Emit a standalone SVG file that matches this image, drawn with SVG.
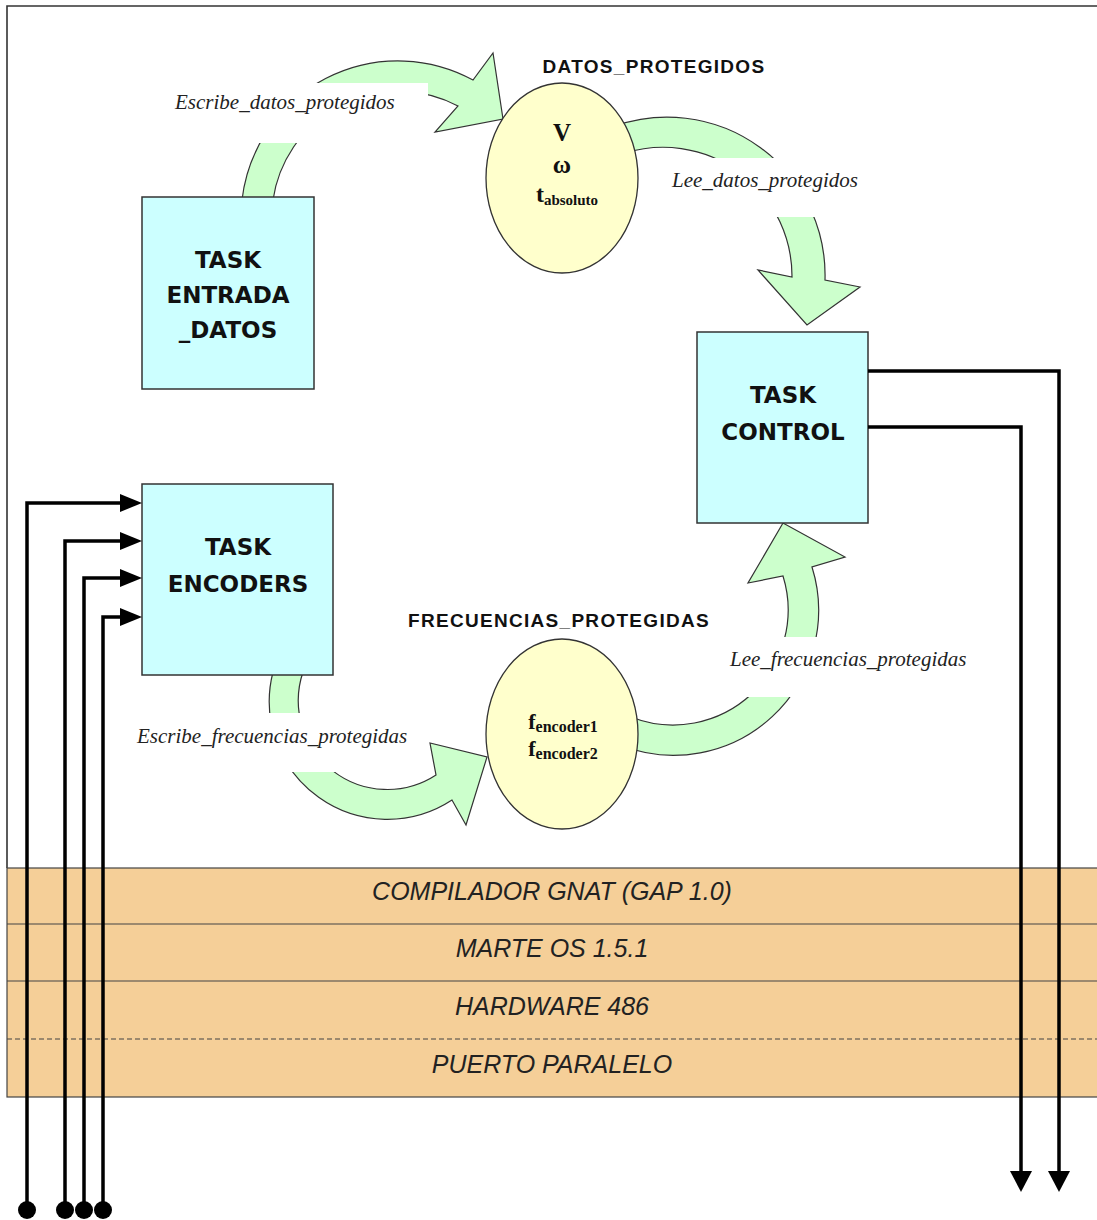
<svg xmlns="http://www.w3.org/2000/svg" width="1097" height="1220" viewBox="0 0 1097 1220">
  <style>
    .box{fill:#CCFFFF;stroke:#333;stroke-width:1.5}
    .store{fill:#FFFFCC;stroke:#333;stroke-width:1.3}
    .flow{fill:#CCFFCC;stroke:#333;stroke-width:1.2;stroke-linejoin:miter}
    .mask{fill:#fff}
    .task{font-family:"DejaVu Sans",sans-serif;font-weight:bold;font-size:23px;fill:#111;text-anchor:middle}
    .title{font-family:"Liberation Sans",Arial,sans-serif;font-weight:bold;font-size:19px;letter-spacing:1.3px;fill:#111;text-anchor:middle}
    .op{font-family:"Liberation Serif","Times New Roman",serif;font-style:italic;font-size:21px;fill:#222}
    .var{font-family:"Liberation Serif","Times New Roman",serif;font-weight:bold;fill:#111;text-anchor:middle}
    .layer{font-family:"Liberation Sans",Arial,sans-serif;font-style:italic;font-size:25px;fill:#222;text-anchor:middle}
    .sep{stroke:#444;stroke-width:1.2}
    .wire{fill:none;stroke:#000;stroke-width:3.5;stroke-linejoin:miter}
  </style>
  <defs>
    <marker id="head-right" markerUnits="userSpaceOnUse" markerWidth="22" markerHeight="18" refX="0" refY="9" orient="auto">
      <path d="M0,0 L22,9 L0,18 Z" fill="#000"/>
    </marker>
    <marker id="head-down" markerUnits="userSpaceOnUse" markerWidth="21" markerHeight="22" refX="0" refY="11" orient="auto">
      <path d="M0,0 L21,11 L0,22 Z" fill="#000"/>
    </marker>
    <marker id="dot" markerUnits="userSpaceOnUse" markerWidth="20" markerHeight="20" refX="10" refY="10" orient="auto">
      <circle cx="10" cy="10" r="9" fill="#000"/>
    </marker>
  </defs>

  <rect width="1097" height="1220" fill="#fff"/>

  <!-- outer frame -->
  <path d="M7,868 V6 H1097" fill="none" stroke="#333" stroke-width="1.6"/>

  <!-- platform layers -->
  <g id="layers">
    <rect x="7" y="868" width="1092" height="229" fill="#F5CF98" stroke="#444" stroke-width="1.2"/>
    <line class="sep" x1="7" y1="924" x2="1097" y2="924"/>
    <line class="sep" x1="7" y1="981" x2="1097" y2="981"/>
    <line class="sep" x1="7" y1="1039" x2="1097" y2="1039" stroke-dasharray="5,3"/>
    <text class="layer" x="552" y="900">COMPILADOR GNAT (GAP 1.0)</text>
    <text class="layer" x="552" y="957">MARTE OS 1.5.1</text>
    <text class="layer" x="552" y="1015">HARDWARE 486</text>
    <text class="layer" x="552" y="1073">PUERTO PARALELO</text>
  </g>

  <!-- curved data-flow arrows with their operation labels -->
  <g id="connectors">
    <g id="flow-escribe-datos">
      <path class="flow" d="M242,200 A157,157 0 0 1 473,80 L493,53 L503,119 L435,132 L458,106 A127,127 0 0 0 273,200 Z"/>
      <rect class="mask" x="168" y="83" width="260" height="60"/>
      <text class="op" x="175" y="109">Escribe_datos_protegidos</text>
    </g>
    <g id="flow-lee-datos">
      <path class="flow" d="M615,126 A158,158 0 0 1 825,280 L860,287 L807,325 L758,270 L792,277 A129,129 0 0 0 625,153 Z"/>
      <rect class="mask" x="665" y="158" width="205" height="59"/>
      <text class="op" x="672" y="187">Lee_datos_protegidos</text>
    </g>
    <g id="flow-escribe-frecuencias">
      <path class="flow" d="M273,672 A118,118 0 0 0 452,800 L466,825 L487,757 L430,743 L436,775 A89,89 0 0 1 303,672 Z"/>
      <rect class="mask" x="133" y="713" width="288" height="59"/>
      <text class="op" x="137" y="743">Escribe_frecuencias_protegidas</text>
    </g>
    <g id="flow-lee-frecuencias">
      <path class="flow" d="M620,745 A145,145 0 0 0 812,567 L845,557 L783,523 L748,583 L783,576 A115,115 0 0 1 631,717 Z"/>
      <rect class="mask" x="725" y="637" width="250" height="60"/>
      <text class="op" x="730" y="666">Lee_frecuencias_protegidas</text>
    </g>
  </g>

  <!-- tasks -->
  <g id="task-entrada-datos">
    <rect class="box" x="142" y="197" width="172" height="192"/>
    <text class="task" x="228" y="268">TASK</text>
    <text class="task" x="228" y="303">ENTRADA</text>
    <text class="task" x="228" y="338">_DATOS</text>
  </g>
  <g id="task-control">
    <rect class="box" x="697" y="332" width="171" height="191"/>
    <text class="task" x="783" y="403">TASK</text>
    <text class="task" x="783" y="440">CONTROL</text>
  </g>
  <g id="task-encoders">
    <rect class="box" x="142" y="484" width="191" height="191"/>
    <text class="task" x="238" y="555">TASK</text>
    <text class="task" x="238" y="592">ENCODERS</text>
  </g>

  <!-- protected objects -->
  <g id="datos-protegidos">
    <text class="title" x="654" y="73">DATOS_PROTEGIDOS</text>
    <ellipse class="store" cx="562" cy="178" rx="76" ry="95"/>
    <text class="var" x="562" y="141" font-size="25">V</text>
    <text class="var" x="562" y="173" font-size="25">ω</text>
    <text class="var" x="567" y="202"><tspan font-size="24">t</tspan><tspan font-size="15" dy="3">absoluto</tspan></text>
  </g>
  <g id="frecuencias-protegidas">
    <text class="title" x="559" y="627">FRECUENCIAS_PROTEGIDAS</text>
    <ellipse class="store" cx="562" cy="734" rx="76" ry="95"/>
    <text class="var" x="563" y="729"><tspan font-size="22">f</tspan><tspan font-size="16" dy="3">encoder1</tspan></text>
    <text class="var" x="563" y="756"><tspan font-size="22">f</tspan><tspan font-size="16" dy="3">encoder2</tspan></text>
  </g>

  <!-- parallel-port signal lines -->
  <g id="wires">
    <path class="wire" d="M27,1210 V503 H120" marker-start="url(#dot)" marker-end="url(#head-right)"/>
    <path class="wire" d="M65,1210 V541 H120" marker-start="url(#dot)" marker-end="url(#head-right)"/>
    <path class="wire" d="M84,1210 V578 H120" marker-start="url(#dot)" marker-end="url(#head-right)"/>
    <path class="wire" d="M103,1210 V617 H120" marker-start="url(#dot)" marker-end="url(#head-right)"/>
    <path class="wire" d="M868,371 H1059 V1171" marker-end="url(#head-down)"/>
    <path class="wire" d="M868,427 H1021 V1171" stroke-width="5" marker-end="url(#head-down)"/>
  </g>
</svg>
